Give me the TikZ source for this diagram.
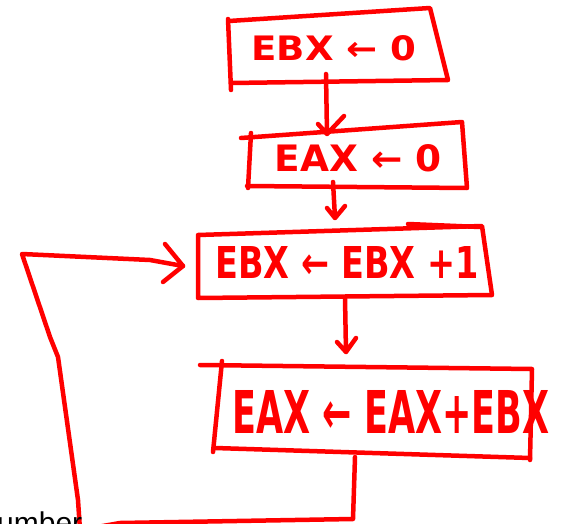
\documentclass[tikz,border=0pt]{standalone}
\usepackage{fontspec}
\setmainfont{DejaVu Sans}
\newfontfamily\slidefont{Liberation Sans}
\begin{document}
\begin{tikzpicture}[x=1pt,y=-1pt,
  pen/.style={draw=red, line width=4.5pt, line cap=round, line join=round},
  lbl/.style={text=red, inner sep=0pt, anchor=center, font=\bfseries}]
\useasboundingbox (0,0) rectangle (562,524);
\clip (0,0) rectangle (562,524);
% box 1
\draw[pen] (229,21) -- (430,8) -- (448,80) -- (231,83);
\draw[pen] (228,19) -- (231,90);
\node[lbl] (t1) at (334,48) {\resizebox{165pt}{25pt}{EBX ← 0}};
% box 2
\draw[pen] (241,138) -- (462,122) -- (467,188) -- (247,186);
\draw[pen] (251,133) -- (248,188);
\node[lbl] (t2) at (358,158) {\resizebox{167pt}{27pt}{EAX ← 0}};
% box 3
\draw[pen] (198,235) -- (482,226) -- (492,295) -- (198,298) -- cycle;
\draw[pen] (408,224) -- (480,227);
\node[lbl] (t3) at (347,262) {\resizebox{263pt}{32pt}{EBX ← EBX +1}};
% box 4
\draw[pen] (200,365) -- (532,369) -- (530,460);
\draw[pen] (222,361) -- (213,452);
\draw[pen] (215,448) -- (530,458);
\node[lbl] (t4) at (391,412) {\resizebox{317pt}{43pt}{EAX ← EAX+EBX}};
% connectors
\coordinate (a1s) at (326,74); \coordinate (a1e) at (327,134);
\coordinate (a2s) at (333,182); \coordinate (a2e) at (335,218);
\coordinate (a3s) at (345,298); \coordinate (a3e) at (346,352);
\draw[pen] (a1s) -- (a1e) (a1e) -- ++(-9,-10) (a1e) -- ++(17,-18);
\draw[pen] (a2s) -- (a2e) (a2e) -- ++(-8,-10) (a2e) -- ++(10,-12);
\draw[pen] (a3s) -- (a3e) (a3e) -- ++(-9,-10) (a3e) -- ++(10,-14);
% loop back
\coordinate (l0) at (355,457);
\coordinate (lend) at (183,266);
\draw[pen] (l0) -- (353,519) -- (120,523) -- (80,530) -- (78,500) -- (58,357) -- (50,337) -- (22,254) -- (150,260) -- (lend);
\draw[pen] (165,244) -- (lend) -- (163,282);
% partial slide text
\node[anchor=base west, inner sep=0pt, text=black, font=\slidefont\fontsize{30}{36}\selectfont] (num) at (-3,533) {umber};
\end{tikzpicture}
\end{document}
